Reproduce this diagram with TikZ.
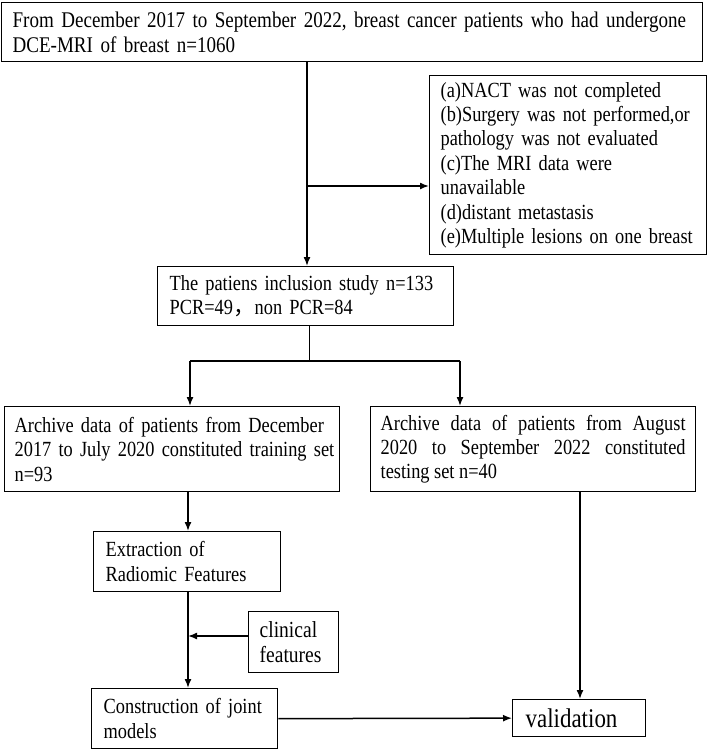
\documentclass[tikz,border=0pt]{standalone}
\usepackage{fontspec}
\setmainfont[FakeStretch=0.85]{Liberation Serif}
\newfontfamily\cjk{Noto Sans CJK SC}
\usetikzlibrary{arrows.meta}
\tikzset{
  box/.style={draw, line width=1.3pt, anchor=north west, inner ysep=0pt,
    font=\fontsize{21.6}{24.4}\selectfont, align=left},
  arr/.style={line width=1.5pt, -{Latex[length=9pt,width=7pt]}},
  ln/.style={line width=1.5pt},
  thin/.style={line width=0.8pt}
}
\begin{document}
\begin{tikzpicture}[x=1pt,y=-1pt]
\useasboundingbox (0,0) rectangle (708,750);
\node[box, inner xsep=11pt, minimum width=701pt, minimum height=59pt, text width=679pt, font=\fontsize{22.4}{24.4}\selectfont] (b1) at (1,2)
  {\mbox{From December 2017 to September 2022, breast cancer patients who had undergone}\\DCE-MRI of breast n=1060};
\node[box, inner xsep=11pt, minimum width=277pt, minimum height=179pt, text width=255pt] (excl) at (429,75)
  {(a)NACT was not completed\\(b)Surgery was not performed,or\\pathology was not evaluated\\(c)The MRI data were\\unavailable\\(d)distant metastasis\\\mbox{(e)Multiple lesions on one breast}};
\node[box, inner xsep=12pt, minimum width=296pt, minimum height=59pt, text width=272pt] (incl) at (157,266)
  {The patiens inclusion study n=133\\PCR=49{\cjk ，}non PCR=84};
\node[box, inner xsep=10pt, minimum width=335pt, minimum height=85pt, text width=315pt] (left) at (4,406)
  {\mbox{Archive data of patients from December}\\\mbox{2017 to July 2020 constituted training set}\\n=93};
\node[box, inner xsep=10pt, minimum width=325pt, minimum height=85pt, text width=305pt, align=justify] (right) at (370,406)
  {Archive data of patients from August\linebreak 2020 to September 2022 constituted\linebreak testing set n=40};
\node[box, inner xsep=12pt, minimum width=187pt, minimum height=60pt, text width=163pt] (extr) at (93,531)
  {Extraction of\\Radiomic Features};
\node[box, inner xsep=11pt, minimum width=90pt, minimum height=61pt, text width=68pt, font=\fontsize{23}{25.5}\selectfont] (clin) at (248,611)
  {clinical\\features};
\node[box, inner xsep=12pt, minimum width=186pt, minimum height=60pt, text width=162pt] (cons) at (91,688)
  {\mbox{Construction of joint}\\models};
\node[box, inner xsep=13pt, minimum width=133pt, minimum height=37pt, text width=107pt, font=\fontsize{27}{30}\selectfont] (valid) at (512,699)
  {validation};
% connectors
\coordinate (j1) at (307,186);
\draw[arr] (b1.south -| j1) -- (j1 |- incl.north);
\draw[arr] (j1) -- (j1 -| excl.west);
\coordinate (sp) at (309,361);
\coordinate (sl) at (190,361);
\coordinate (sr) at (460,361);
\draw[thin] (incl.south -| sp) -- (sp);
\draw[ln] (sl) -- (sr);
\draw[arr] (sl) -- (sl |- left.north);
\draw[arr] (sr) -- (sr |- right.north);
\coordinate (lx) at (188,0);
\draw[arr] (lx |- left.south) -- (lx |- extr.north);
\draw[arr] (lx |- extr.south) -- (lx |- cons.north);
\coordinate (cj) at (188,636);
\draw[arr] (clin.west |- cj) -- (cj);
\coordinate (rx) at (580,0);
\draw[arr] (rx |- right.south) -- (rx |- valid.north);
\draw[arr] (cons.east) -- (valid.west);
\end{tikzpicture}
\end{document}
